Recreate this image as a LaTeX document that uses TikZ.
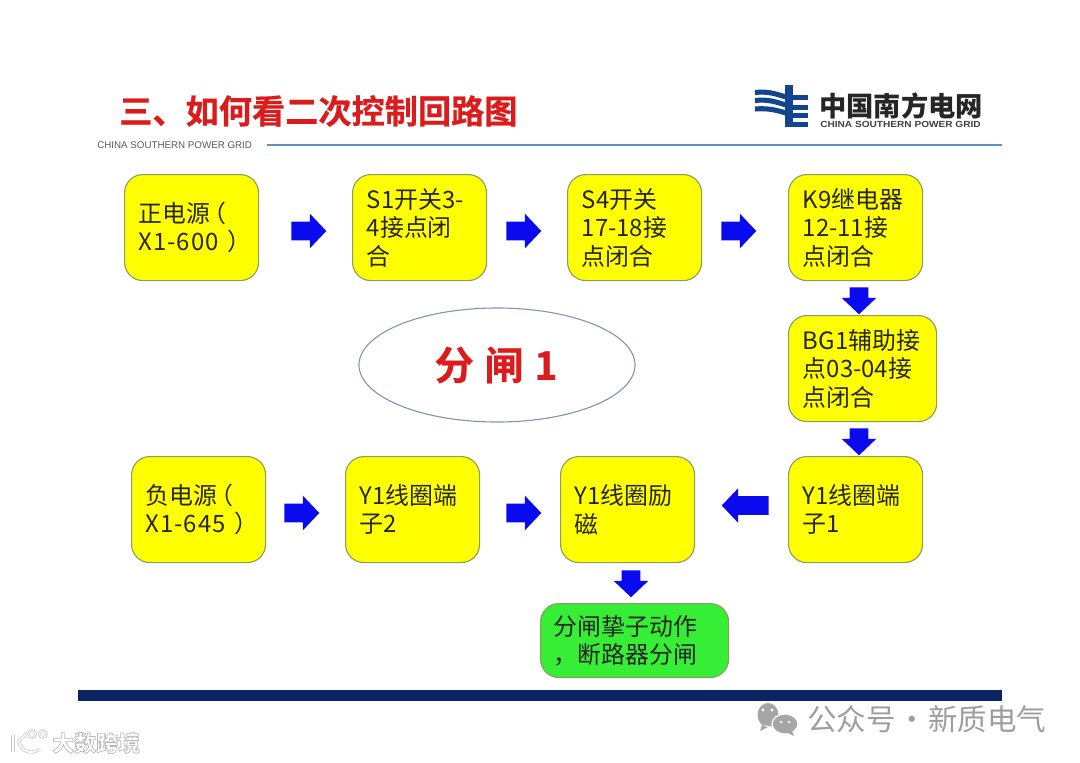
\documentclass[tikz,border=0pt]{standalone}
\usepackage{fontspec}
\setmainfont{Noto Sans CJK SC}
\newfontfamily\latinfont{Liberation Sans}
\newfontfamily\logofont[FakeStretch=1.14]{Liberation Sans}
\newfontfamily\heavyfont[FakeBold=0.6]{Noto Sans CJK SC Bold}
\usetikzlibrary{shapes.arrows}
\definecolor{boxline}{HTML}{8A9F5E}
\definecolor{navybar}{HTML}{0B2462}
\definecolor{steelline}{HTML}{5F8FBF}
\definecolor{ovalline}{HTML}{8296B4}
\definecolor{logoblue}{HTML}{12458E}
\definecolor{titlered}{HTML}{DC1C1C}
\definecolor{boxyellow}{HTML}{FFFF00}
\definecolor{boxgreen}{HTML}{36EE36}
\definecolor{arrowblue}{HTML}{0A0AEE}
\newcommand{\arrowshaft}{\rule{0pt}{12.8pt}}
\newcommand{\widelatin}[1]{{\addfontfeature{LetterSpace=4}#1}}
\tikzset{
  stepbox/.style={draw=boxline, fill=boxyellow, line width=0.8pt, rounded corners=13pt, align=left, anchor=north west,
    inner xsep=10pt, inner ysep=0pt, minimum width=95.3pt, minimum height=75.4pt, text width=75pt,
    text=black!85, font=\fontsize{17}{20.3}\selectfont},
  blockarrow/.style={single arrow, fill=arrowblue, draw=none, anchor=tail, minimum height=24.9pt,
    single arrow head extend=5.7pt, single arrow tip angle=93, inner sep=0pt},
}
\begin{document}
\begin{tikzpicture}[x=0.025cm, y=-0.025cm]
    \useasboundingbox (0,0) rectangle (1080,763);

    % Title
    \node[text=titlered, font=\fontsize{23.6}{26}\heavyfont, anchor=west, inner sep=0pt] (title) at (119,111) {三、如何看二次控制回路图};
    \node[text=black!65, font=\latinfont\fontsize{6.95}{8}\selectfont, anchor=west, inner sep=0pt] (subtitle) at (97,145.5) {CHINA SOUTHERN POWER GRID};
    \draw[steelline, line width=1.3pt] (267,145) -- (1002,145);

    % Logo
    \draw[logoblue, line width=3.6pt] (755,92.5) .. controls (768,91) and (776,94) .. (786,97);
    \draw[logoblue, line width=3.6pt] (755,100.5) .. controls (768,99) and (776,102) .. (786,105);
    \draw[logoblue, line width=3.6pt] (755,109) .. controls (768,108) and (776,110) .. (786,113);
    \fill[logoblue] (785,85) rectangle (793,127);
    \foreach \yy in {97.5,107,115.5,124.5} {
      \fill[logoblue] (793,\yy-2.5) rectangle (808,\yy+2.5);
    }
    \node[text=black!85, font=\fontsize{19.4}{22}\bfseries, anchor=west, inner sep=0pt] (logoname) at (819,105.5) {中国南方电网};
    \node[text=black!75, font=\logofont\fontsize{6.3}{8}\bfseries, anchor=west, inner sep=0pt] (logosub) at (820,124.5) {CHINA SOUTHERN POWER GRID};

    % Top row
    \node[stepbox] (pos) at (124,174) {正电源\hspace{-5.6pt}（\\\widelatin{X1-600}\hspace{6.5pt}\rlap{）}};
    \node[stepbox] (s1) at (352,174) {S1开关3-\\4接点闭\\合};
    \node[stepbox] (s4) at (567,174) {S4开关\\17-18接\\点闭合};
    \node[stepbox] (k9) at (788,174) {K9继电器\\12-11接\\点闭合};

    % Right column
    \node[stepbox, minimum width=105.3pt, text width=85pt] (bg1) at (788,315) {BG1辅助接\\点03-04接\\点闭合};
    \node[stepbox] (y1a) at (788,456) {Y1线圈端\\子1};

    % Bottom row
    \node[stepbox] (y1c) at (560,456) {Y1线圈励\\磁};
    \node[stepbox] (y1b) at (345,456) {Y1线圈端\\子2};
    \node[stepbox] (neg) at (131,456) {负电源\hspace{-5.6pt}（\\\widelatin{X1-645}\hspace{6.5pt}\rlap{）}};
    \node[stepbox, fill=boxgreen, minimum width=133.7pt, minimum height=52.6pt, text width=115pt, inner xsep=9pt] (trip) at (540,603) {分闸挚子动作\\，断路器分闸};

    % Ellipse
    \draw[ovalline, line width=0.8pt] (497,365) ellipse (138 and 57);
    \node[text=titlered, font={\fontsize{28}{30}\heavyfont\spaceskip=7.5pt}, inner sep=0pt] (mode) at (496,365) {分 闸 1};

    % Block arrows
    \node[blockarrow] (a1) at (291,231) {\arrowshaft};
    \node[blockarrow] (a2) at (506,231) {\arrowshaft};
    \node[blockarrow] (a3) at (721,231) {\arrowshaft};
    \node[blockarrow, rotate=-90, minimum height=19.2pt] (a4) at (859,287) {\arrowshaft};
    \node[blockarrow, rotate=-90, minimum height=19.2pt] (a5) at (859,428) {\arrowshaft};
    \node[blockarrow, rotate=180, minimum height=33.4pt] (a6) at (769,505.5) {\arrowshaft};
    \node[blockarrow] (a7) at (506,513) {\arrowshaft};
    \node[blockarrow] (a8) at (284,513) {\arrowshaft};
    \node[blockarrow, rotate=-90, minimum height=19.2pt] (a9) at (631,570) {\arrowshaft};

    % Bottom bar
    \fill[navybar] (78,690) rectangle (1002,701);

    % Watermarks
    \fill[black!35] (768,715) ellipse (10.5 and 12) (762,725) -- (760,731) -- (770,726) -- cycle;
    \fill[black!35, draw=white, line width=0.8pt] (785,724) ellipse (13 and 10);
    \fill[black!35] (792,731) -- (794,736) -- (786,732) -- cycle;
    \fill[white] (763,710) circle (1.6) (772,710) circle (1.6) (781,722) circle (1.4) (789,722) circle (1.4);
    \node[text=black!38, font=\fontsize{21}{24}\selectfont, anchor=west, inner sep=0pt] (wechat) at (807,719.5) {公众号\hspace{1pt}·\hspace{1pt}新质电气};
    \draw[black!22, line width=0.5pt, double=white, double distance=1.2pt] (13,735) -- (13,752);
    \draw[black!22, line width=0.5pt, double=white, double distance=1.2pt] (27,733) -- (19,741) .. controls (20,750) and (30,756) .. (40,749);
    \draw[black!22, line width=0.5pt, double=white, double distance=0.8pt] (32,734) circle (3.5) (43,734) circle (3.5);
    \node[text=white, font=\fontsize{15.6}{18}\bfseries, anchor=west, inner sep=0pt] (brand) at (52,743) {\special{pdf:code 0.72 G 0.5 w 2 Tr}大数跨境\special{pdf:code 0 Tr 0 G 1 w}};
\end{tikzpicture}
\end{document}
